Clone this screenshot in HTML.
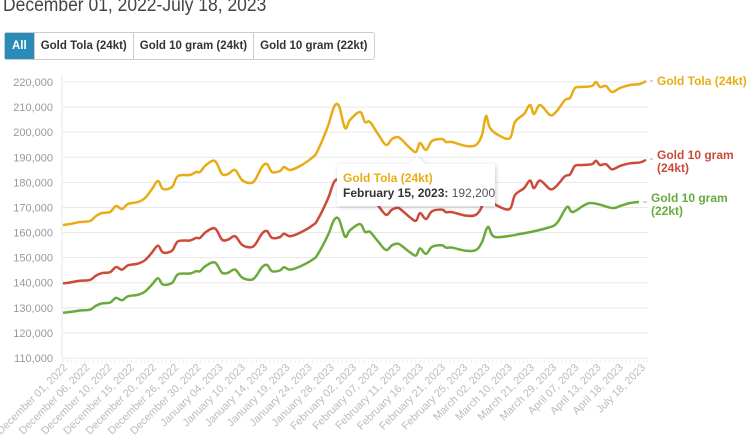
<!DOCTYPE html>
<html><head><meta charset="utf-8"><style>
body{margin:0;width:753px;height:446px;overflow:hidden;background:#fff;font-family:"Liberation Sans",sans-serif;}
.title{position:absolute;left:3px;top:-5px;font-size:19px;color:#444;transform:scaleX(0.92);transform-origin:0 0;white-space:nowrap;}
.btns{position:absolute;left:4px;top:32px;height:26px;display:flex;border:1px solid #ccc;border-radius:3px;font-size:11.5px;font-weight:bold;color:#333;}
.btns div{padding:0 6px;line-height:26px;border-left:1px solid #ccc;}
.btns div.a{background:#2a8ab8;color:#fff;border-left:none;padding:0 7px;}
</style></head><body>
<div class="title">December 01, 2022-July 18, 2023</div>
<div class="btns"><div class="a">All</div><div>Gold Tola (24kt)</div><div>Gold 10 gram (24kt)</div><div>Gold 10 gram (22kt)</div></div>
<svg id="s" width="753" height="446" style="position:absolute;left:0;top:0;overflow:hidden"></svg>
<script>
const s=document.getElementById('s');let h='';
const K=0.0025091;
const Y=v=>82+(220000-v)*K;const V=y=>220000-(y-82)/K;
for(let i=0;i<=11;i++){const v=110000+i*10000,yy=Y(v);h+=`<line x1="62" x2="648" y1="${yy}" y2="${yy}" stroke="#e8e8e8"/>`;h+=`<text x="53" y="${yy+4}" font-size="11" fill="#999" text-anchor="end">${v.toLocaleString('en-US')}</text>`;}
h+=`<line x1="62" x2="62" y1="75" y2="358" stroke="#e6e6e6"/>`;
for(let x=63;x<648;x+=4.3)h+=`<line x1="${x}" x2="${x}" y1="358" y2="363" stroke="#eee"/>`;
const labs=["December 01, 2022","December 06, 2022","December 10, 2022","December 15, 2022","December 20, 2022","December 26, 2022","December 30, 2022","January 04, 2023","January 10, 2023","January 14, 2023","January 19, 2023","January 24, 2023","January 28, 2023","February 02, 2023","February 07, 2023","February 11, 2023","February 16, 2023","February 21, 2023","February 25, 2023","March 02, 2023","March 10, 2023","March 21, 2023","March 29, 2023","April 07, 2023","April 13, 2023","April 18, 2023","July 18, 2023"];
labs.forEach((l,i)=>{const x=68+i*(646-68)/26;h+=`<text transform="translate(${x},368) rotate(-45)" font-size="10.8" fill="#bbb" text-anchor="end">${l}</text>`;});
const yl=[[63,225],[70,224],[80,222],[90,221],[96,216],[102,213],[110,212],[116,206],[122,209],[128,204],[138,202],[145,198],[152,189],[158,181],[163,189],[172,187],[178,176],[190,175],[196,172],[200,172],[206,165],[215,161],[222,174],[228,174],[235,170],[242,180],[250,183],[255,180],[262,167],[267,164],[272,172],[280,171],[284,167],[290,170],[300,166],[313,157],[318,150],[328,126],[334,107],[339,106],[345,128],[350,120],[360,112],[365,122],[370,122],[378,134],[386,145],[392,139],[398,137],[402,140],[410,148],[416,152],[420,143],[426,150],[432,141],[442,139],[446,142],[452,142],[466,146],[476,145],[482,135],[486,116],[490,128],[500,136],[510,138],[515,122],[524,114],[530,105],[534,114],[540,105],[550,115],[556,112],[565,100],[570,98],[575,88],[582,87],[592,86],[596,82],[600,87],[606,86],[612,92],[620,88],[630,85],[640,84],[646,81]];
const red=yl.map(([x,y])=>[x,Y(V(y)/1.1664)]);
const gr=yl.filter(p=>p[0]<484).map(([x,y])=>[x,Y(V(y)/1.1664*0.916)]).concat([[488,227],[495,237],[520,234],[547,228],[557,223],[567,207],[573,212],[590,203],[612,208],[620,206],[630,203],[639,202]]);
function path(p){let d=`M${p[0][0]},${p[0][1]}`;for(let i=0;i<p.length-1;i++){const a=p[Math.max(0,i-1)],b=p[i],c=p[i+1],e=p[Math.min(p.length-1,i+2)];d+=` C${b[0]+(c[0]-a[0])/6},${b[1]+(c[1]-a[1])/6} ${c[0]-(e[0]-b[0])/6},${c[1]-(e[1]-b[1])/6} ${c[0]},${c[1]}`;}return d;}
[[gr,'#6aaa3c'],[red,'#cc4a3a'],[yl,'#e8ad14']].forEach(([p,c])=>h+=`<path d="${path(p)}" fill="none" stroke="${c}" stroke-width="2.5" stroke-linejoin="round"/>`);
h+=`<text x="657" y="85" font-size="12" font-weight="bold" fill="#e8ad14">Gold Tola (24kt)</text>`;
h+=`<text x="657" y="159" font-size="12" font-weight="bold" fill="#cc4a3a">Gold 10 gram</text><text x="657" y="172" font-size="12" font-weight="bold" fill="#cc4a3a">(24kt)</text>`;
h+=`<text x="651" y="202" font-size="12" font-weight="bold" fill="#6aaa3c">Gold 10 gram</text><text x="651" y="215" font-size="12" font-weight="bold" fill="#6aaa3c">(22kt)</text>`;
h+=`<line x1="650" x2="653" y1="81" y2="81" stroke="#aaa"/><line x1="650" x2="653" y1="159" y2="159" stroke="#aaa"/><line x1="643" x2="647" y1="202" y2="202" stroke="#aaa"/>`;
h+=`<defs><filter id="f" x="-10%" y="-20%" width="120%" height="150%"><feDropShadow dx="1" dy="1" stdDeviation="2" flood-opacity="0.2"/></filter></defs>`;
h+=`<path filter="url(#f)" d="M337,164 H409 L417,156 L425,164 H495 V206 H337 Z" fill="#fff"/>`;
h+=`<text x="343" y="182" font-size="12" font-weight="bold" fill="#e8ad14">Gold Tola (24kt)</text>`;
h+=`<text x="343" y="197" font-size="12" fill="#333"><tspan font-weight="bold">February 15, 2023:</tspan><tspan fill="#555"> 192,200</tspan></text>`;
s.innerHTML=h;
</script>
</body></html>
